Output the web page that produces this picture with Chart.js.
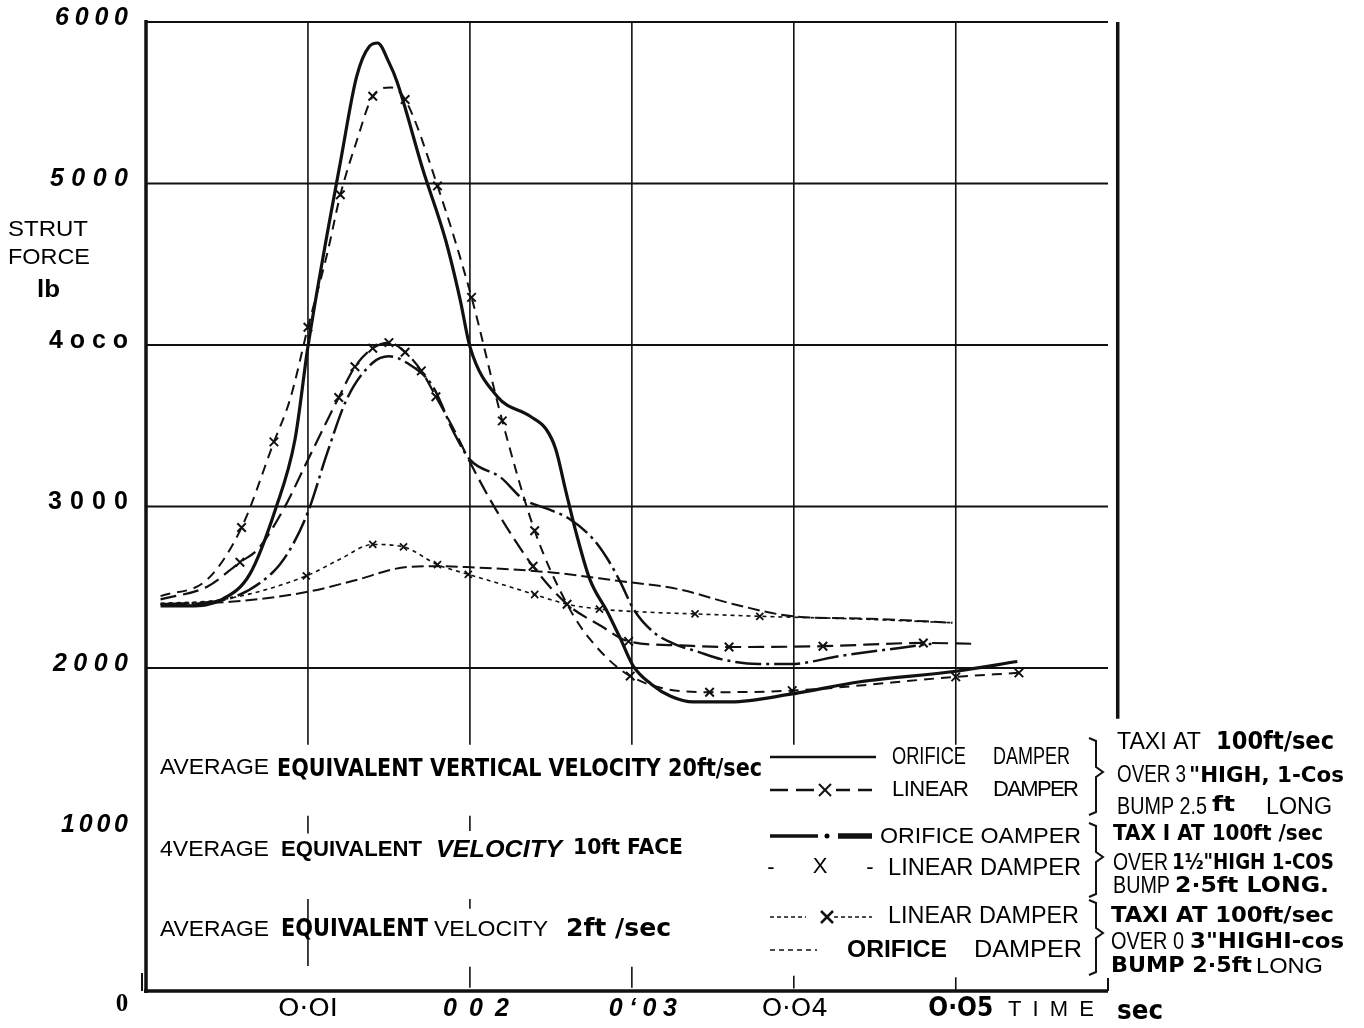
<!DOCTYPE html>
<html>
<head>
<meta charset="utf-8">
<script src="https://cdn.jsdelivr.net/npm/chart.js@4/dist/chart.umd.min.js"></script>
<style>
  html, body { margin: 0; padding: 0; background: #fff; }
  canvas { display: block; }
</style>
</head>
<body>
<canvas id="strut" width="1364" height="1028"></canvas>
<script>
// --------------
// DATA (time in sec, strut force in lb)
// --------------

// orifice damper, 20 ft/sec (solid)
const aT = [0.0009,0.0027,0.0047,0.0064,0.0080,0.0092,0.0100,0.0112,0.0120,0.0130,0.0138,0.0143,0.0150,0.0155,0.0171,0.0185,0.0194,0.0200,0.0217,0.0237,0.0247,0.0253,0.0259,0.0265,0.0274,0.0285,0.0293,0.0301,0.0312,0.0324,0.0338,0.0361,0.0399,0.0441,0.0500,0.0538];
const aF = [2385,2385,2425,2580,2985,3415,3990,4695,5130,5660,5850,5870,5750,5630,5085,4650,4280,3990,3680,3560,3480,3355,3105,2860,2550,2345,2180,2010,1900,1825,1790,1790,1840,1915,1980,2040];

// linear damper, 20 ft/sec (dashed, X)
const bT = [0.0009,0.0038,0.0059,0.0079,0.0089,0.0100,0.0112,0.0120,0.0130,0.0140,0.0151,0.0160,0.0180,0.0201,0.0220,0.0240,0.0260,0.0274,0.0299,0.0348,0.0399,0.0500,0.0539];
const bF = [2445,2550,2870,3400,3665,4110,4570,4930,5260,5540,5595,5520,4985,4295,3530,2850,2395,2180,1950,1850,1860,1945,1970];
const bMarkT = [0.0059,0.0079,0.0100,0.0120,0.0140,0.0160,0.0180,0.0201,0.0220,0.0240,0.0299,0.0348,0.0399,0.0500,0.0539];
const bMarkF = [2870,3400,4110,4930,5540,5520,4985,4295,3530,2850,1950,1850,1860,1945,1970];

// orifice damper, 10 ft/sec (dash-dot)
const cT = [0.0009,0.0047,0.0078,0.0089,0.0100,0.0112,0.0124,0.0140,0.0150,0.0161,0.0177,0.0190,0.0200,0.0219,0.0233,0.0248,0.0262,0.0276,0.0285,0.0293,0.0301,0.0313,0.0326,0.0341,0.0355,0.0378,0.0398,0.0429,0.0485];
const cF = [2395,2420,2590,2735,2965,3335,3665,3890,3930,3890,3745,3460,3290,3180,3045,2985,2920,2800,2675,2530,2365,2225,2150,2100,2055,2025,2025,2075,2150];

// linear damper, 10 ft/sec (long dash, X)
const dT = [0.0009,0.0038,0.0058,0.0069,0.0085,0.0100,0.0119,0.0129,0.0140,0.0150,0.0160,0.0170,0.0179,0.0191,0.0200,0.0217,0.0239,0.0260,0.0281,0.0298,0.0330,0.0360,0.0418,0.0480,0.0511];
const dF = [2425,2505,2655,2735,2985,3290,3675,3865,3980,4015,3955,3840,3680,3460,3275,2965,2630,2395,2260,2165,2140,2130,2135,2155,2150];
const dMarkT = [0.0058,0.0119,0.0129,0.0140,0.0150,0.0160,0.0170,0.0179,0.0239,0.0260,0.0298,0.0360,0.0418,0.0480];
const dMarkF = [2655,3675,3865,3980,4015,3955,3840,3680,2630,2395,2165,2130,2135,2155];

// linear damper, 2 ft/sec (short dash, X)
const eT = [0.0009,0.0048,0.0099,0.0120,0.0140,0.0159,0.0180,0.0199,0.0219,0.0240,0.0260,0.0280,0.0311,0.0339,0.0379,0.0435,0.0499];
const eF = [2400,2425,2570,2675,2765,2750,2640,2580,2520,2455,2395,2365,2345,2335,2320,2305,2280];
const eMarkT = [0.0099,0.0140,0.0159,0.0180,0.0199,0.0240,0.0280,0.0339,0.0379];
const eMarkF = [2570,2765,2750,2640,2580,2455,2365,2335,2320];

// orifice damper, 2 ft/sec (dashed)
const fT = [0.0009,0.0052,0.0099,0.0128,0.0161,0.0179,0.0198,0.0252,0.0291,0.0328,0.0363,0.0400,0.0447,0.0498];
const fF = [2395,2410,2470,2540,2625,2630,2625,2590,2540,2490,2395,2320,2305,2280];

// axes
const yTicks = [1000, 2000, 3000, 4000, 5000, 6000];
const yTickText = ['1000', '2000', '3000', '4oco', '5000', '6000'];
const xTicks = [0.01, 0.02, 0.03, 0.04, 0.05];
const xTickText = ['O·OI', '0 0 2', '0‘03', 'O·O4', 'O·O5'];
const gridForces = [2000, 3000, 4000, 5000, 6000];

const SANS = '"Liberation Sans", Arial, sans-serif';
const HAND = '"DejaVu Sans", sans-serif';
const SERIF = '"Liberation Serif", serif';
const INK = '#111';

const pts = (t, f) => t.map((v, i) => ({ x: v, y: f[i] }));

// --------------
// TEXT HELPERS
// --------------
function fitText(ctx, s, x, y, font, w, align) {
  ctx.save();
  ctx.font = font;
  ctx.textBaseline = 'middle';
  ctx.textAlign = 'left';
  const m = ctx.measureText(s).width;
  const k = w ? w / m : 1;
  let left = x;
  if (align === 'center') left = x - m * k / 2;
  else if (align === 'right') left = x - m * k;
  ctx.translate(left, y);
  ctx.scale(k, 1);
  ctx.fillText(s, 0, 0);
  ctx.restore();
}

function spacedText(ctx, s, x, y, font, w, align) {
  ctx.save();
  ctx.font = font;
  ctx.textBaseline = 'middle';
  ctx.textAlign = 'left';
  const chars = [...s];
  const widths = chars.map(c => ctx.measureText(c).width);
  const sum = widths.reduce((a, b) => a + b, 0);
  const gap = chars.length > 1 ? (w - sum) / (chars.length - 1) : 0;
  let left = align === 'center' ? x - w / 2 : align === 'right' ? x - w : x;
  chars.forEach((c, i) => {
    ctx.fillText(c, left, y);
    left += widths[i] + gap;
  });
  ctx.restore();
}

function seg(ctx, x1, y1, x2, y2, w, dash) {
  ctx.save();
  ctx.lineWidth = w;
  ctx.setLineDash(dash || []);
  ctx.beginPath();
  ctx.moveTo(x1, y1);
  ctx.lineTo(x2, y2);
  ctx.stroke();
  ctx.restore();
}

function cross(ctx, cx, cy, r, w) {
  seg(ctx, cx - r, cy - r, cx + r, cy + r, w);
  seg(ctx, cx - r, cy + r, cx + r, cy - r, w);
}

function bracket(ctx, top, bottom, mid) {
  ctx.save();
  ctx.lineWidth = 2;
  ctx.beginPath();
  ctx.moveTo(1089, top);
  ctx.lineTo(1096, top + 3);
  ctx.lineTo(1096, mid - 5);
  ctx.lineTo(1103, mid);
  ctx.lineTo(1096, mid + 5);
  ctx.lineTo(1096, bottom - 3);
  ctx.lineTo(1089, bottom);
  ctx.stroke();
  ctx.restore();
}

// --------------
// PLUGINS
// --------------
const paperGrid = {
  id: 'paperGrid',
  beforeDatasetsDraw(chart) {
    const { ctx } = chart;
    const X = v => chart.scales.x.getPixelForValue(v);
    const Y = v => chart.scales.y.getPixelForValue(v);
    ctx.save();
    ctx.strokeStyle = INK;

    // horizontal rules
    gridForces.forEach(v => seg(ctx, X(0), Y(v), X(0.0594), Y(v), 2));

    // vertical rules stop above the legend block
    xTicks.forEach(t => seg(ctx, X(t), Y(6000), X(t), Y(1525), 1.6));

    // little stubs left in the legend block
    const stubs = [
      [0.01, 975, 1085], [0.01, 155, 570], [0.02, 990, 1085], [0.02, 510, 570],
      [0.02, 20, 150], [0.03, 20, 150], [0.04, 15, 95], [0.05, 5, 85]
    ];
    stubs.forEach(([t, lo, hi]) => seg(ctx, X(t), Y(hi), X(t), Y(lo), 1.6));

    // frame
    seg(ctx, X(0), Y(6000) - 2, X(0), Y(0) + 2, 3.5);
    seg(ctx, X(0) - 2, Y(0), X(0.0594), Y(0), 3.5);
    seg(ctx, X(0.0594), Y(0), X(0.0594), Y(80), 2);
    seg(ctx, X(0.0600), Y(6000), X(0.0600), Y(1685), 3.5);
    seg(ctx, X(0) - 4, Y(0) - 18, X(0) - 4, Y(0), 2);
    ctx.restore();
  },
  afterDraw(chart) {
    const { ctx } = chart;
    const X = v => chart.scales.x.getPixelForValue(v);
    const Y = v => chart.scales.y.getPixelForValue(v);
    ctx.save();
    ctx.fillStyle = '#000';
    ctx.strokeStyle = INK;

    // y axis title
    fitText(ctx, 'STRUT', 8, 230, `22px ${SANS}`, 80);
    fitText(ctx, 'FORCE', 8, 258, `22px ${SANS}`, 82);
    fitText(ctx, 'lb', 37, 290, `bold 24px ${SANS}`, 23);

    // y tick labels
    const yW = [67, 75, 80, 79, 78, 73];
    const yItalic = [true, true, false, false, true, true];
    yTicks.forEach((v, i) => {
      const font = `${yItalic[i] ? 'italic ' : ''}bold 25px ${SANS}`;
      spacedText(ctx, yTickText[i], 128, Y(v) - 4, font, yW[i], 'right');
    });
    fitText(ctx, '0', 122, 1005, `bold 25px ${SERIF}`, null, 'center');

    // x tick labels
    const xFont = [`25px ${HAND}`, `italic bold 25px ${SANS}`, `italic bold 25px ${SANS}`, `25px ${HAND}`, `bold 27px ${HAND}`];
    const xW = [60, 66, 68, 66, 65];
    const xDx = [0, 6, 11, 1, 5];
    xTicks.forEach((t, i) => {
      if (i === 1 || i === 2) spacedText(ctx, xTickText[i], X(t) + xDx[i], 1009, xFont[i], xW[i], 'center');
      else fitText(ctx, xTickText[i], X(t) + xDx[i], 1009, xFont[i], xW[i], 'center');
    });
    spacedText(ctx, 'TIME', 1008, 1010, `22px ${SANS}`, 86);
    fitText(ctx, 'sec', 1117, 1012, `bold 26px ${HAND}`, 46);

    // left block of the legend
    const rows = [
      ['AVERAGE', 160, 768, `22px ${SANS}`, 109],
      ['EQUIVALENT VERTICAL VELOCITY 20ft/sec', 277, 770, `bold 24px ${HAND}`, 485],
      ['4VERAGE', 160, 850, `22px ${SANS}`, 109],
      ['EQUIVALENT', 281, 850, `bold 22px ${SANS}`, 141],
      ['VELOCITY', 436, 850, `italic bold 24px ${SANS}`, 126],
      ['10ft FACE', 573, 848, `bold 22px ${HAND}`, 110],
      ['AVERAGE', 160, 930, `22px ${SANS}`, 109],
      ['EQUIVALENT', 281, 930, `bold 24px ${HAND}`, 147],
      ['VELOCITY', 434, 930, `22px ${SANS}`, 114],
      ['2ft /sec', 566, 930, `bold 24px ${HAND}`, 105],

      ['ORIFICE', 892, 757, `24px ${SANS}`, 74],
      ['DAMPER', 993, 757, `24px ${SANS}`, 77],
      ['ORIFICE OAMPER', 880, 837, `22px ${SANS}`, 201],
      ['LINEAR DAMPER', 888, 869, `23px ${SANS}`, 193],
      ['LINEAR DAMPER', 888, 917, `23px ${SANS}`, 191],
      ['ORIFICE', 847, 951, `bold 23px ${SANS}`, 100],
      ['DAMPER', 974, 951, `23px ${SANS}`, 108],

      ['TAXI AT', 1117, 743, `23px ${SANS}`, 84],
      ['100ft/sec', 1216, 743, `bold 24px ${HAND}`, 118],
      ['OVER 3', 1117, 776, `23px ${SANS}`, 69],
      ['"HIGH, 1-Cos', 1189, 776, `bold 22px ${HAND}`, 155],
      ['BUMP 2.5', 1117, 808, `23px ${SANS}`, 90],
      ['ft', 1212, 805, `bold 22px ${HAND}`, 23],
      ['LONG', 1266, 808, `23px ${SANS}`, 66],
      ['TAX I AT 100ft /sec', 1113, 835, `bold 21px ${HAND}`, 210],
      ['OVER', 1113, 864, `23px ${SANS}`, 55],
      ['1½"HIGH 1-COS', 1172, 864, `bold 21px ${HAND}`, 162],
      ['BUMP', 1113, 887, `23px ${SANS}`, 57],
      ['2·5ft LONG.', 1175, 887, `bold 21px ${HAND}`, 154],
      ['TAXI AT 100ft/sec', 1111, 917, `bold 21px ${HAND}`, 223],
      ['OVER 0', 1111, 943, `23px ${SANS}`, 73],
      ['3"HIGHI-cos', 1190, 943, `bold 21px ${HAND}`, 154],
      ['BUMP 2·5ft', 1111, 967, `bold 21px ${HAND}`, 141],
      ['LONG', 1256, 967, `22px ${SANS}`, 67]
    ];
    rows.forEach(([s, x, y, font, w]) => fitText(ctx, s, x, y, font, w));
    spacedText(ctx, 'LINEAR', 892, 790, `22px ${SANS}`, 77);
    spacedText(ctx, 'DAMPER', 993, 790, `22px ${SANS}`, 86);

    // legend line samples
    seg(ctx, 770, 757, 876, 757, 2.5);
    seg(ctx, 770, 790, 815, 790, 2.5, [18, 8]);
    cross(ctx, 825, 790, 6, 2);
    seg(ctx, 836, 790, 876, 790, 2.5, [14, 8]);
    seg(ctx, 770, 836, 818, 836, 3.5);
    ctx.beginPath(); ctx.arc(827, 836, 2.5, 0, Math.PI * 2); ctx.fill();
    seg(ctx, 838, 836, 872, 836, 5.5);
    fitText(ctx, '-', 771, 868, `22px ${SANS}`, null, 'center');
    fitText(ctx, 'X', 820, 867, `22px ${SANS}`, null, 'center');
    fitText(ctx, '-', 870, 868, `22px ${SANS}`, null, 'center');
    seg(ctx, 770, 917, 806, 917, 1.6, [4, 3]);
    cross(ctx, 827, 917, 6, 2.5);
    seg(ctx, 834, 917, 872, 917, 1.6, [4, 3]);
    seg(ctx, 770, 950, 817, 950, 1.6, [5, 4]);

    // braces
    bracket(ctx, 738, 815, 772);
    bracket(ctx, 823, 897, 857);
    bracket(ctx, 900, 975, 933);
    ctx.restore();
  }
};

// --------------
// CHART
// --------------
const curve = (label, t, f, width, dash) => ({
  label, data: pts(t, f), borderColor: INK, borderWidth: width, borderDash: dash,
  pointRadius: 0, cubicInterpolationMode: 'monotone', fill: false
});
const marks = (label, t, f, r, w) => ({
  label, data: pts(t, f), showLine: false, pointStyle: 'crossRot',
  pointRadius: r, pointBorderWidth: w, pointBorderColor: INK, pointBackgroundColor: INK
});

new Chart(document.getElementById('strut'), {
  type: 'line',
  data: {
    datasets: [
      curve('Orifice damper 20 ft/sec', aT, aF, 3.2, []),
      curve('Linear damper 20 ft/sec', bT, bF, 2, [10, 7]),
      marks('Linear 20 marks', bMarkT, bMarkF, 6, 2),
      curve('Orifice damper 10 ft/sec', cT, cF, 2.5, [26, 5, 3, 5]),
      curve('Linear damper 10 ft/sec', dT, dF, 2.2, [16, 7]),
      marks('Linear 10 marks', dMarkT, dMarkF, 6, 2),
      curve('Linear damper 2 ft/sec', eT, eF, 1.6, [4, 4]),
      marks('Linear 2 marks', eMarkT, eMarkF, 5, 1.8),
      curve('Orifice damper 2 ft/sec', fT, fF, 2, [12, 5])
    ]
  },
  options: {
    responsive: false,
    animation: false,
    devicePixelRatio: 1,
    layout: { padding: { left: 146, top: 22, right: 256, bottom: 37 } },
    plugins: { legend: { display: false }, tooltip: { enabled: false } },
    scales: {
      x: { type: 'linear', min: 0, max: 0.0594, display: false },
      y: { type: 'linear', min: 0, max: 6000, display: false }
    }
  },
  plugins: [paperGrid]
});
</script>
</body>
</html>
